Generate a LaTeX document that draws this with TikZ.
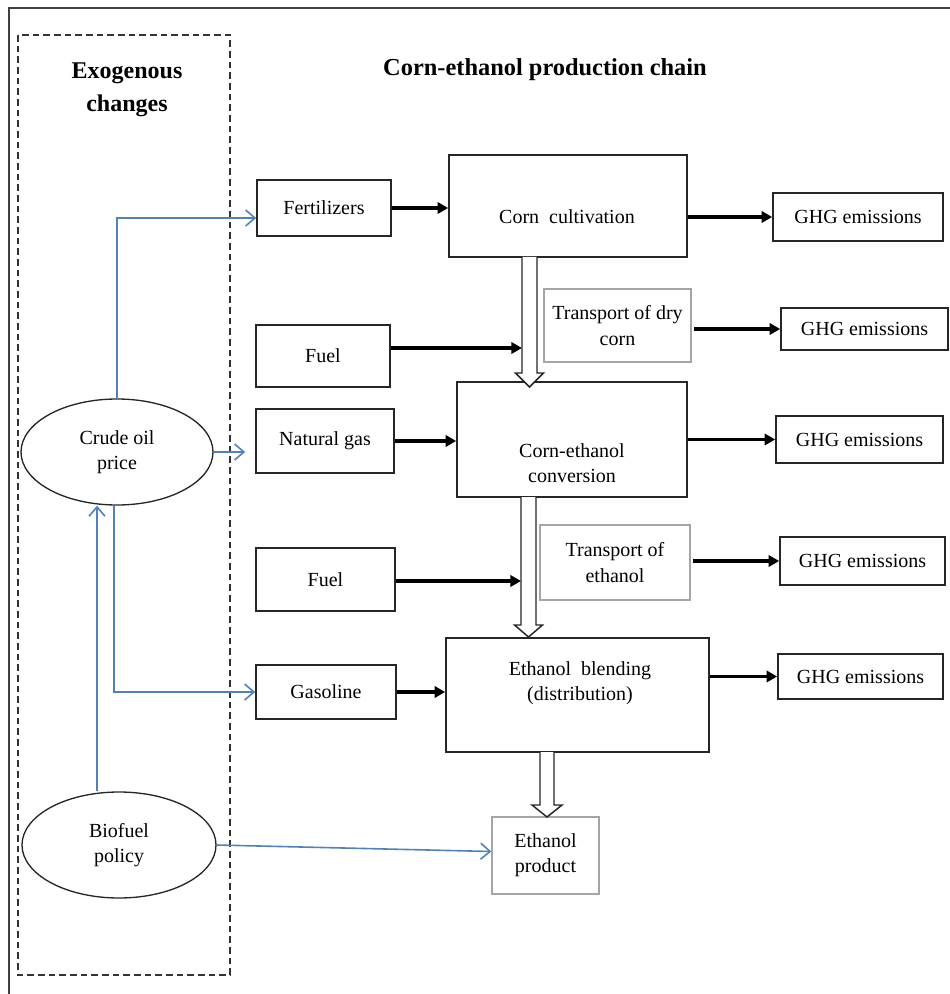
\documentclass[tikz,border=0pt]{standalone}
\usepackage{fontspec}
\setmainfont{Liberation Serif}
\usetikzlibrary{arrows.meta,shapes.geometric}
\definecolor{blu}{RGB}{79,129,189}
\definecolor{gbord}{RGB}{165,165,165}
\newcommand\pxbox[7]{\node[#6,minimum width={(#4-#2)*0.75pt},minimum height={(#5-#3)*0.75pt}] (#1) at ({(#2+#4)/2},{(#3+#5)/2}) {#7};}
\begin{document}
\begin{tikzpicture}[x=0.75pt,y=-0.75pt,
 txt/.style={font=\fontsize{15}{19}\selectfont, align=center},
 bx/.style={draw=black!85, line width=1.2pt, inner sep=0pt, txt},
 gbx/.style={draw=gbord, line width=1.1pt, inner sep=0pt, txt},
 ell/.style={ellipse, draw=black!85, line width=1pt, inner sep=0pt, txt},
 blk/.style={line width=2.6pt, -{Triangle[length=8pt,width=8.5pt]}},
 bl/.style={draw=blu, line width=1.2pt, -{Straight Barb[length=7pt,width=12pt,line width=1.2pt]}},
 hollow/.style={draw=black!85, line width=1.1pt, fill=white, line join=miter}]
\useasboundingbox (0,0) rectangle (949,994);
% frame and dashed region
\draw[line width=1.4pt, black!75] (9,8) rectangle (990,1030);
\draw[dashed, line width=1.1pt, dash pattern=on 5pt off 3pt, black!80] (18,35) rectangle (230,975);
% titles
\node[font=\fontsize{18}{24.5}\selectfont\bfseries, align=center] (exo) at (127,90) {Exogenous\\changes};
\node[font=\fontsize{18.3}{22}\selectfont\bfseries] (title) at (545,70) {Corn-ethanol production chain};
% boxes
\pxbox{fert}{257}{180}{391}{236}{bx}{Fertilizers}
\pxbox{corn}{449}{155}{687}{257}{bx}{}
\node[txt] (corntxt) at (567,217) {Corn~ cultivation};
\pxbox{ghgA}{773}{193}{943}{241}{bx}{GHG emissions}
\pxbox{trA}{544}{289}{691}{362}{gbx}{Transport of dry\\corn}
\pxbox{ghgB}{781}{308}{948}{350}{bx}{GHG emissions}
\pxbox{fuelA}{256}{325}{390}{387}{bx}{Fuel}
\node[ell, minimum width=144pt, minimum height=79.5pt] (crude) at (117,452) {Crude oil\\price};
\pxbox{ng}{256}{409}{394}{473}{bx}{Natural gas}
\pxbox{conv}{457}{382}{687}{497}{bx}{}
\node[txt] (convtxt) at (572,463) {Corn-ethanol\\conversion};
\pxbox{ghgC}{776}{416}{943}{463}{bx}{GHG emissions}
\pxbox{trB}{540}{525}{690}{600}{gbx}{Transport of\\ethanol}
\pxbox{ghgD}{780}{537}{945}{585}{bx}{GHG emissions}
\pxbox{fuelB}{256}{548}{395}{611}{bx}{Fuel}
\pxbox{blend}{446}{638}{709}{752}{bx}{}
\node[txt] (blendtxt) at (580,683) {Ethanol~ blending\\(distribution)};
\pxbox{ghgE}{778}{654}{943}{699}{bx}{GHG emissions}
\pxbox{gas}{256}{665}{396}{719}{bx}{Gasoline}
\pxbox{prod}{492}{817}{599}{894}{gbx}{Ethanol\\product}
\node[ell, minimum width=145.5pt, minimum height=79.5pt] (bio) at (119,845) {Biofuel\\policy};
% hollow arrows
\draw[hollow] (522,257) -- (522,373) -- (515.5,373) -- (529.5,387) -- (543.5,373) -- (537,373) -- (537,257);
\draw[hollow] (521,497) -- (521,625) -- (514.5,625) -- (528.5,637) -- (542.5,625) -- (536,625) -- (536,497);
\draw[hollow] (540,752) -- (540,805) -- (532,805) -- (547,817) -- (562,805) -- (554,805) -- (554,752);
% black arrows
\coordinate (jA) at (522,348);
\coordinate (jB) at (521,581);
\draw[blk] (fert.east) -- (fert.east -| corn.west);
\draw[blk] (ghgA.west -| corn.east) -- (ghgA.west);
\draw[blk] (fuelA.east |- jA) -- (jA);
\draw[blk] ([xshift=2pt]ghgB.west -| trA.east) -- (ghgB.west);
\draw[blk] (ng.east) -- (ng.east -| conv.west);
\draw[blk] (ghgC.west -| conv.east) -- (ghgC.west);
\draw[blk] (fuelB.east |- jB) -- (jB);
\draw[blk] ([xshift=2pt]ghgD.west -| trB.east) -- (ghgD.west);
\draw[blk] (gas.east) -- (gas.east -| blend.west);
\draw[blk] (ghgE.west -| blend.east) -- (ghgE.west);
% blue arrows
\coordinate (bxl) at (97,0);
\draw[bl] (crude.north) |- ([yshift=-7.5pt]fert.west);
\draw[bl] (crude.east) -- ([xshift=-7.5pt]crude.east -| ng.west);
\draw[bl] ([xshift=-2.25pt]crude.south) |- (gas.west);
\draw[bl] (bio.north -| bxl) -- (crude.south -| bxl);
\draw[bl] (bio.east) -- ([yshift=3pt]prod.west);
\end{tikzpicture}
\end{document}
